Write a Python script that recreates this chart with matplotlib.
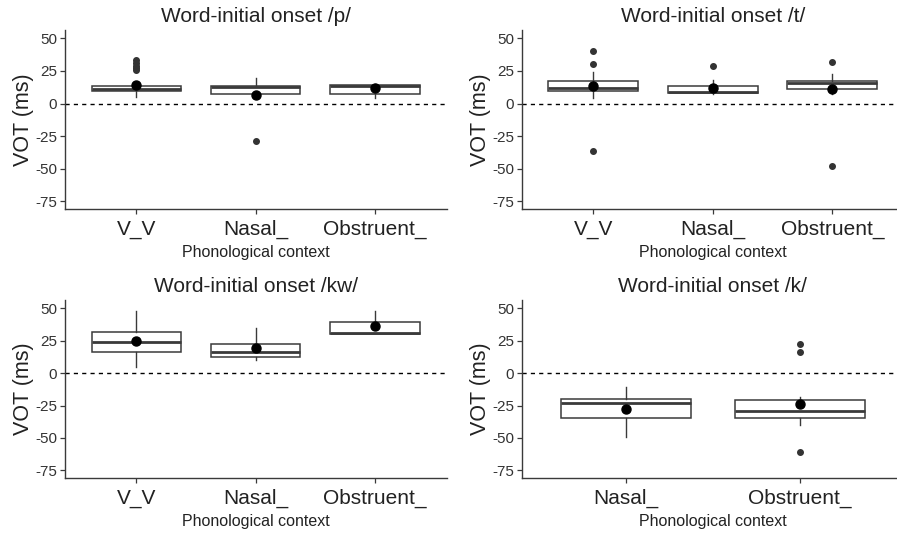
import matplotlib
matplotlib.use("Agg")
import matplotlib.pyplot as plt

plt.rcParams['font.family'] = ['Liberation Sans', 'DejaVu Sans']

# panel titles and categories
titles = ["Word-initial onset /p/", "Word-initial onset /t/",
          "Word-initial onset /kw/", "Word-initial onset /k/"]
cats_3 = ["V_V", "Nasal_", "Obstruent_"]
cats_2 = ["Nasal_", "Obstruent_"]
yticks = [50, 25, 0, -25, -50, -75]

# /p/
p_q1 = [9.4, 7.1, 7.7]
p_med = [11.5, 13.0, 13.5]
p_q3 = [13.5, 13.5, 14.0]
p_lo = [5.0, 5.5, 4.6]
p_hi = [15.5, 19.6, 15.3]
p_fliers = [[25.5, 27, 29, 31, 33.5], [-28.7], []]
p_mean = [14.5, 6.6, 11.7]

# /t/
t_q1 = [9.4, 7.9, 11.0]
t_med = [12.3, 8.9, 15.8]
t_q3 = [17.6, 13.5, 17.6]
t_lo = [4.6, 7.1, 7.1]
t_hi = [24.2, 18.4, 23.0]
t_fliers = [[40.1, 30.4, -36.6], [28.8], [32.2, -48.0]]
t_mean = [13.3, 12.3, 11.2]

# /kw/
kw_q1 = [16.6, 12.5, 30.5]
kw_med = [23.7, 16.5, 31.0]
kw_q3 = [32.0, 22.7, 39.5]
kw_lo = [5.1, 10.4, 30.5]
kw_hi = [47.8, 35.1, 48.3]
kw_fliers = [[], [], []]
kw_mean = [25.0, 19.3, 36.4]

# /k/
k_q1 = [-34.9, -34.9]
k_med = [-23.1, -29.0]
k_q3 = [-19.6, -21.1]
k_lo = [-49.6, -39.9]
k_hi = [-10.7, -18.3]
k_fliers = [[], [22.4, 16.5, -61.0]]
k_mean = [-27.5, -23.7]

W, H = 897, 533
fig = plt.figure(figsize=(W / 100, H / 100), dpi=100)

# axes boxes in pixels: left, right, top, bottom
boxes = [(64.7, 446.6, 30, 209.3), (521.6, 904.0, 30, 209.3),
         (64.7, 446.6, 300, 478.3), (521.6, 904.0, 300, 478.3)]

panels = [
    (cats_3, p_q1, p_med, p_q3, p_lo, p_hi, p_fliers, p_mean),
    (cats_3, t_q1, t_med, t_q3, t_lo, t_hi, t_fliers, t_mean),
    (cats_3, kw_q1, kw_med, kw_q3, kw_lo, kw_hi, kw_fliers, kw_mean),
    (cats_2, k_q1, k_med, k_q3, k_lo, k_hi, k_fliers, k_mean),
]

line_col = "#3a3a3a"
text_col = "#222222"

for i, (cats, q1, med, q3, lo, hi, fl, mn) in enumerate(panels):
    l, r, t, b = boxes[i]
    ax = fig.add_axes([l / W, 1 - b / H, (r - l) / W, (b - t) / H])
    stats = []
    for j in range(len(cats)):
        stats.append(dict(q1=q1[j], med=med[j], q3=q3[j], whislo=lo[j],
                          whishi=hi[j], fliers=fl[j], label=cats[j]))
    pos = list(range(1, len(cats) + 1))
    ax.bxp(stats, positions=pos, widths=0.75, showcaps=False, patch_artist=True,
           boxprops=dict(facecolor="white", edgecolor=line_col, linewidth=1.1),
           medianprops=dict(color=line_col, linewidth=2.0),
           whiskerprops=dict(color=line_col, linewidth=1.0),
           flierprops=dict(marker="o", markerfacecolor="#333333",
                           markeredgecolor="#333333", markersize=4),
           zorder=2)
    ax.plot(pos, mn, "o", color="black", markersize=6.5, zorder=4)
    ax.axhline(0, color="black", linestyle=(0, (3, 3)), linewidth=1.0, zorder=1)

    ax.set_xlim(0.4, len(cats) + 0.6)
    ax.set_ylim(-81.1, 56.4)
    ax.set_yticks(yticks)
    ax.set_yticklabels([str(v) for v in yticks], fontsize=11, color="#333333")
    ax.set_xticks(pos)
    ax.set_xticklabels(cats, fontsize=15, color=text_col)
    ax.tick_params(axis="both", length=3.5, width=0.9, color=line_col, pad=2)
    ax.tick_params(axis="x", pad=4)
    ax.set_title(titles[i], fontsize=15, color=text_col, pad=6)
    ax.set_xlabel("Phonological context", fontsize=11.5, color=text_col, labelpad=4)
    ax.set_ylabel("VOT (ms)", fontsize=15.5, color=text_col, labelpad=1)
    for s in ["top", "right"]:
        ax.spines[s].set_visible(False)
    for s in ["left", "bottom"]:
        ax.spines[s].set_color(line_col)
        ax.spines[s].set_linewidth(1.0)

fig.savefig("out.png", dpi=100, facecolor="white")
